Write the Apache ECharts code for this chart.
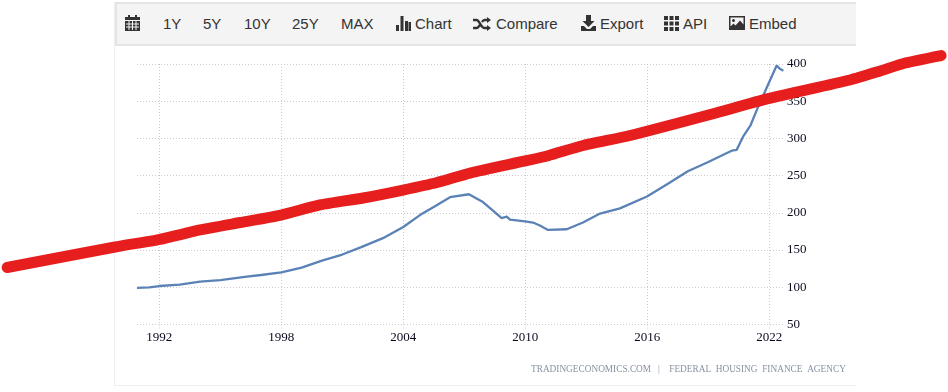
<!DOCTYPE html>
<html>
<head>
<meta charset="utf-8">
<title>House price index</title>
<script src="https://cdn.jsdelivr.net/npm/echarts@6/dist/echarts.min.js"></script>
<style>
  html, body { margin: 0; padding: 0; background: #fff; }
  #wrap { position: relative; width: 948px; height: 392px; overflow: hidden; font-family: "Liberation Sans", Arial, sans-serif; }
  #chart { position: absolute; left: 0; top: 0; width: 948px; height: 392px; }
  #panel { position: absolute; left: 114px; top: 2px; width: 741px; height: 383px; border-left: 1px solid #f0f0f0; border-bottom: 1px solid #f0f0f0; }
  #toolbar { position: absolute; left: 115px; top: 2px; width: 739px; height: 40px; background: #f4f4f4; border-top: 2px solid #e4e4e4; border-left: 2px solid #e4e4e4; border-bottom: 2px solid #e4e4e4; }
  .tb { position: absolute; top: 11px; font-size: 15px; line-height: 18px; color: #333; white-space: nowrap; }
  .ic { position: absolute; }
</style>
</head>
<body>
<div id="wrap">
  <div id="panel"></div>
  <div id="chart"></div>
  <div id="toolbar">
    <svg class="ic" style="left:8px;top:11px" width="15" height="16" viewBox="0 0 15 16"><path fill="#333" d="M3 0h2v2h5V0h2v2h3v14H0V2h3z"/><path fill="#f4f4f4" d="M0 5h15v1H0zM3.500 6h1v9h-1zM7 6h1v9H7zM10.500 6h1v9h-1zM1 8.500h13v1H1zM1 11.500h13v1H1z"/></svg>
    <span class="tb" style="left:46px">1Y</span>
    <span class="tb" style="left:86px">5Y</span>
    <span class="tb" style="left:127px">10Y</span>
    <span class="tb" style="left:175px">25Y</span>
    <span class="tb" style="left:224px">MAX</span>
    <svg class="ic" style="left:279px;top:12px" width="15" height="15" viewBox="0 0 15 15"><path fill="#333" d="M0 9h3v6H0zM4.500 0h3v15h-3zM9 5h3v10H9z"/><path fill="#333" d="M12.500 6h2.500v9h-2.500z"/></svg>
    <span class="tb" style="left:298px">Chart</span>
    <svg class="ic" style="left:356px;top:13px" width="18" height="14" viewBox="0 0 18 14"><path fill="none" stroke="#333" stroke-width="2.400" d="M0 3h3.500c3 0 4.500 8 8 8H15M0 11h3.500c1.500 0 2.500-1.500 3.200-3M9 5c.7-1 1.500-2 2.500-2H15"/><path fill="#333" d="M14 0l4 3-4 3zM14 8l4 3-4 3z"/></svg>
    <span class="tb" style="left:379px">Compare</span>
    <svg class="ic" style="left:464px;top:11px" width="15" height="16" viewBox="0 0 15 16"><path fill="#333" d="M5 0h5v6h3.500L7.500 12 1.500 6H5zM0 11h3l3 3h3l3-3h3v5H0z"/></svg>
    <span class="tb" style="left:483px">Export</span>
    <svg class="ic" style="left:547px;top:12px" width="15" height="15" viewBox="0 0 15 15"><path fill="#333" d="M0 0h4v4H0zM5.500 0h4v4h-4zM11 0h4v4h-4zM0 5.500h4v4H0zM5.500 5.500h4v4h-4zM11 5.500h4v4h-4zM0 11h4v4H0zM5.500 11h4v4h-4zM11 11h4v4h-4z"/></svg>
    <span class="tb" style="left:566px">API</span>
    <svg class="ic" style="left:612px;top:12px" width="16" height="14" viewBox="0 0 16 14"><path fill="#333" fill-rule="evenodd" d="M0 0h16v14H0zM1.500 1.500v9l3-3 2 2 4.500-5 3.500 4v-7z"/><circle cx="4.500" cy="4.500" r="1.500" fill="#333"/></svg>
    <span class="tb" style="left:632px">Embed</span>
  </div>
</div>
<script>
// house price index
var hpiYears = [1990.9, 1991.5, 1992, 1993, 1994, 1995, 1996.2, 1997, 1998, 1999, 2000, 2001, 2001.9, 2003, 2004, 2004.82, 2005.56, 2006.3, 2007.23, 2007.56, 2007.92, 2008.37, 2008.84, 2009.09, 2009.25, 2009.99, 2010.38, 2010.72, 2011.12, 2012.04, 2012.84, 2013.68, 2014.66, 2015.99, 2017.02, 2018, 2018.98, 2019.82, 2020.16, 2020.4, 2020.71, 2021.09, 2021.39, 2021.9, 2022.37, 2022.53, 2022.7];
var hpiValues = [99.3, 99.8, 101.7, 103.5, 107.5, 109.5, 114, 116.5, 120, 126.5, 135.7, 144, 153.7, 166, 181, 197, 209, 221, 225, 220, 214.5, 204, 193, 195, 191, 188.6, 187, 183, 177, 178, 187, 199, 206, 222, 239, 256, 268, 279, 283.5, 284.5, 302, 318, 338, 369.5, 398, 393.5, 391];

// the red stroke drawn over the chart, runs past the plot on both sides
var strokeYears = [1984.51, 1989.82, 1992.03, 1994, 1995.97, 1997.99, 1999.9, 2002.02, 2003.99, 2005.66, 2007.28, 2009.99, 2011.12, 2012.84, 2015.15, 2019.19, 2021.94, 2025.97, 2027.45, 2028.68, 2030.45];
var strokeValues = [126.6, 154.1, 164.5, 177, 187, 197.1, 210.6, 220, 230.7, 240.8, 253.5, 269.7, 276.8, 290.5, 303.9, 332.8, 353.4, 378.5, 390.6, 401.3, 411.4];

var yearTicks = [1992, 1998, 2004, 2010, 2016, 2022];

function pairs(xs, ys) {
  return xs.map(function (x, i) { return [x, ys[i]]; });
}

var labelFont = "Liberation Sans Narrow";

var myChart = echarts.init(document.getElementById("chart"));
myChart.setOption({
  animation: false,
  backgroundColor: "transparent",
  grid: [
    { left: 137, right: 163, top: 64, bottom: 67.5 },
    // same scale as the first grid but over the whole page, for the red stroke
    { left: 0, right: 0, top: 0, bottom: 0 }
  ],
  xAxis: [
    {
      type: "value",
      gridIndex: 0,
      min: 1990.9,
      max: 2022.78,
      axisLine: { show: false },
      axisTick: {
        show: true,
        length: 5,
        customValues: yearTicks,
        lineStyle: { color: "#ccc", type: [1, 2] }
      },
      axisLabel: {
        color: "#0a0a1e",
        fontSize: 13,
        fontFamily: labelFont,
        margin: 7,
        customValues: yearTicks,
        formatter: function (v) { return String(v); }
      },
      splitLine: {
        show: true,
        lineStyle: { color: "#ccc", type: [1, 2] }
      }
    },
    { type: "value", gridIndex: 1, min: 1984.16, max: 2030.79, show: false }
  ],
  yAxis: [
    {
      type: "value",
      gridIndex: 0,
      position: "right",
      min: 50,
      max: 400,
      interval: 50,
      axisLine: { show: false },
      axisTick: { show: false },
      axisLabel: {
        color: "#0a0a1e",
        fontSize: 13,
        fontFamily: labelFont,
        margin: 2,
        align: "left",
        padding: [2, 0, 0, 0]
      },
      splitLine: {
        show: true,
        lineStyle: { color: "#ccc", type: [1, 2] }
      }
    },
    { type: "value", gridIndex: 1, min: -40.7, max: 486, show: false }
  ],
  series: [
    {
      name: "hpi",
      type: "line",
      xAxisIndex: 0,
      yAxisIndex: 0,
      data: pairs(hpiYears, hpiValues),
      showSymbol: false,
      lineStyle: { color: "#5a82b6", width: 2.3 }
    },
    {
      name: "stroke",
      type: "line",
      xAxisIndex: 1,
      yAxisIndex: 1,
      data: pairs(strokeYears, strokeValues),
      showSymbol: false,
      smooth: 0.2,
      lineStyle: { color: "#e71e1e", width: 11, cap: "round", join: "round" }
    }
  ],
  graphic: [
    {
      type: "text",
      left: 531,
      top: 365,
      style: {
        text: "TRADINGECONOMICS.COM   |    FEDERAL  HOUSING  FINANCE  AGENCY",
        fill: "#8792a2",
        font: "9.3px Liberation Sans Narrow"
      }
    }
  ]
});
</script>
</body>
</html>
